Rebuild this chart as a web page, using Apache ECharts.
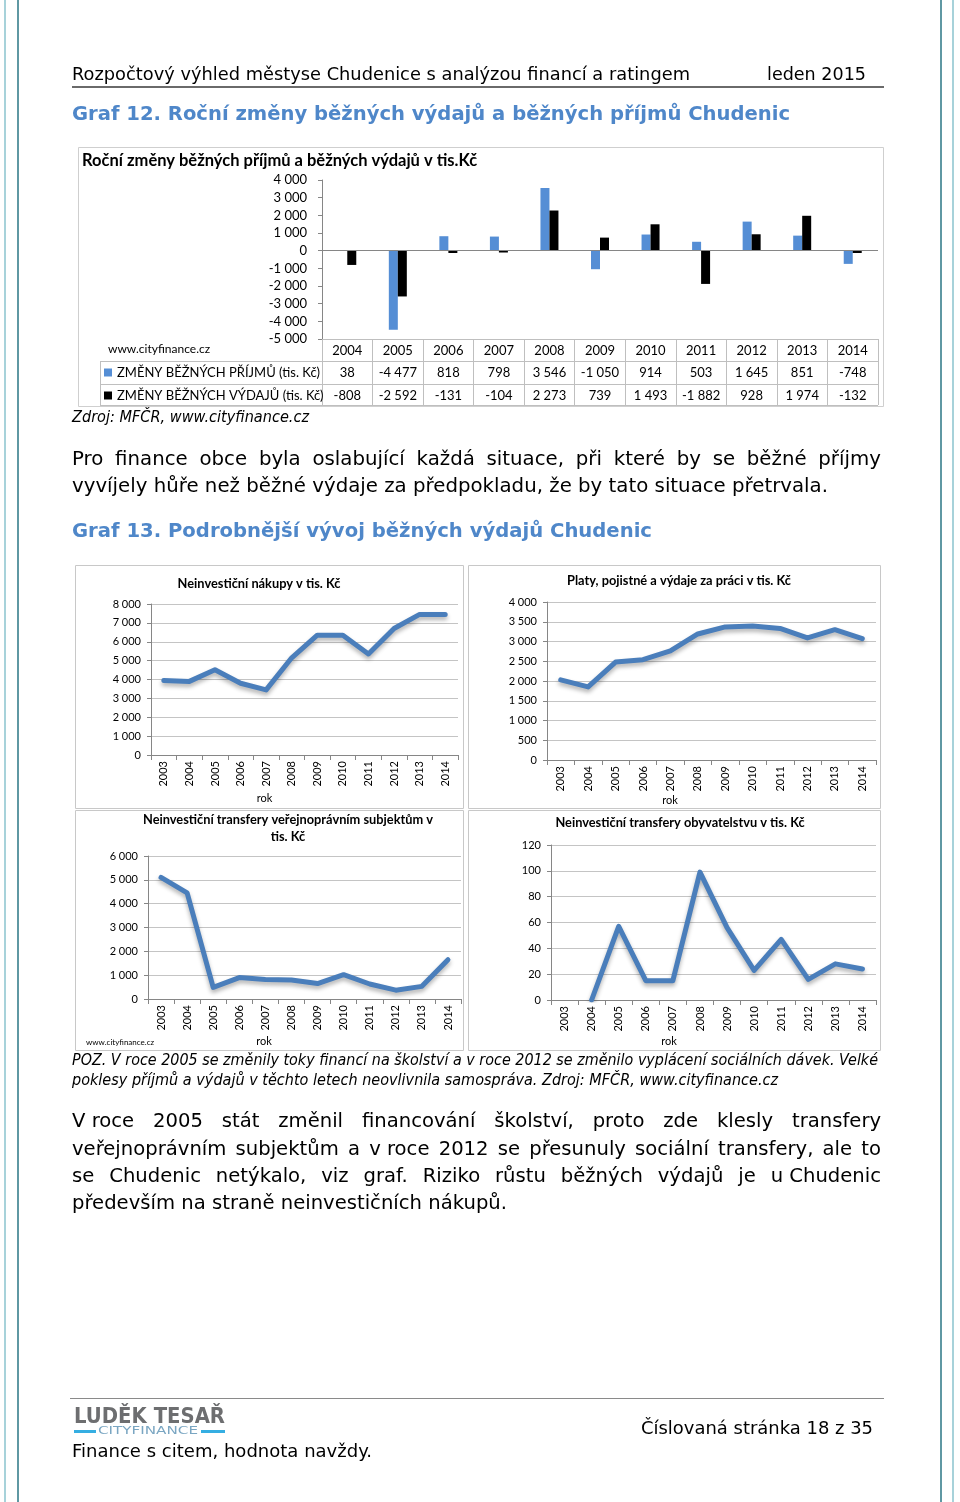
<!DOCTYPE html>
<html><head><meta charset="utf-8">
<script src="https://cdn.jsdelivr.net/npm/echarts@6/dist/echarts.min.js"></script>
<style>
html,body{margin:0;padding:0;background:#fff;}
#page{position:relative;width:960px;height:1502px;overflow:hidden;background:#fff;}
#chart{position:absolute;left:0;top:0;width:960px;height:1502px;}
.t{position:absolute;white-space:nowrap;font-family:'DejaVu Sans',Verdana,sans-serif;color:#000;transform-origin:0 50%;}
.t span{word-spacing:0;}
.r{position:absolute;}
</style></head><body>
<div id="page"><div id="chart"></div></div>
<script>
// ---------- data ----------
const years12 = ['2004','2005','2006','2007','2008','2009','2010','2011','2012','2013','2014'];
const prijmy = [38,-4477,818,798,3546,-1050,914,503,1645,851,-748];
const vydaje = [-808,-2592,-131,-104,2273,739,1493,-1882,928,1974,-132];
const seriesNames12 = ['ZMĚNY BĚŽNÝCH PŘÍJMŮ (tis. Kč)','ZMĚNY BĚŽNÝCH VÝDAJŮ (tis. Kč)'];

const years13 = ['2003','2004','2005','2006','2007','2008','2009','2010','2011','2012','2013','2014'];
const nakupy = [3950,3900,4520,3800,3450,5150,6350,6350,5350,6700,7450,7450];
const platy = [2030,1850,2480,2540,2760,3190,3370,3390,3330,3090,3300,3070];
const transferyVS = [5100,4450,490,900,820,800,650,1020,630,370,530,1650];
const transferyObyv = [null,0,57,15,15,99,56,23,47,16,28,24];

const panelTitles = ['Neinvestiční nákupy v tis. Kč','Platy, pojistné a výdaje za práci v tis. Kč','Neinvestiční transfery veřejnoprávním subjektům v\ntis. Kč','Neinvestiční transfery obyvatelstvu v tis. Kč'];

// ---------- helpers ----------
const F = 'Lato, "Open Sans", sans-serif';
const fmt = v => v == null ? '' : (v < 0 ? '-' : '') + String(Math.abs(v)).replace(/\B(?=(\d{3})+(?!\d))/g, ' ');
const page = document.getElementById('page');
const NB = '\u00a0';

function fill(d, s) {
  // words joined by NBSP are kept in spans so justification does not stretch them
  s.split(' ').forEach((w, i) => {
    if (i) d.appendChild(document.createTextNode(' '));
    if (w.indexOf(NB) >= 0) { const sp = document.createElement('span'); sp.textContent = w; d.appendChild(sp); }
    else d.appendChild(document.createTextNode(w));
  });
}
function measure(s, size, o) {
  const d = document.createElement('span');
  d.className = 't'; fill(d, s); d.style.fontSize = size + 'px';
  if (o.bold) d.style.fontWeight = 'bold';
  if (o.italic) d.style.fontStyle = 'italic';
  page.appendChild(d); const w = d.getBoundingClientRect().width; page.removeChild(d); return w;
}
function txt(s, x, yc, size, target, o = {}, scale, justifyTo) {
  const d = document.createElement('div');
  d.className = 't'; fill(d, s);
  d.style.fontSize = size + 'px'; d.style.lineHeight = (size * 1.25) + 'px';
  d.style.left = x + 'px'; d.style.top = (yc - size * 0.625) + 'px';
  if (o.bold) d.style.fontWeight = 'bold';
  if (o.italic) d.style.fontStyle = 'italic';
  if (o.color) d.style.color = o.color;
  page.appendChild(d);
  const w = d.getBoundingClientRect().width;
  let s2 = scale || (target ? target / w : 1);
  if (justifyTo) {
    const spaces = (s.match(/ /g) || []).length;
    if (spaces) d.style.wordSpacing = ((justifyTo / s2 - w) / spaces) + 'px';
  }
  d.style.transform = 'scaleX(' + s2 + ')';
  return d;
}
function para(lines, x, ys, size, width, lastTarget, o = {}) {
  const last = lines[lines.length - 1];
  const sc = lastTarget / measure(last, size, o);
  lines.forEach((l, i) => {
    if (i < lines.length - 1) txt(l, x, ys[i], size, null, o, sc, width);
    else txt(l, x, ys[i], size, null, o, sc);
  });
}
function rule(x, y, w, h, c) {
  const d = document.createElement('div'); d.className = 'r';
  d.style.left = x + 'px'; d.style.top = y + 'px'; d.style.width = w + 'px'; d.style.height = h + 'px'; d.style.background = c;
  page.appendChild(d);
}

// ---------- page decoration & text ----------
rule(4, 0, 2, 1502, '#a7d2da'); rule(17, 0, 2, 1502, '#5f98a3');
rule(940, 0, 2, 1502, '#5f98a3'); rule(952, 0, 2, 1502, '#a7d2da');

txt('Rozpočtový výhled městyse Chudenice s analýzou financí a ratingem', 72, 75, 17, 618);
txt('leden 2015', 767, 75, 17, 99);
rule(72, 86, 812, 2, '#6a6a6a');
const BLUE = '#4f87c9';
txt('Graf 12. Roční změny běžných výdajů a běžných příjmů Chudenic', 72, 114, 19, 718, {bold: true, color: BLUE});
txt('Zdroj: MFČR, www.cityfinance.cz', 72, 417, 15, 237, {italic: true});
para(['Pro finance obce byla oslabující každá situace, při které by se běžné příjmy',
      'vyvíjely hůře než běžné výdaje za předpokladu, že by tato situace přetrvala.'],
     72, [459, 486], 19, 809, 756);
txt('Graf 13. Podrobnější vývoj běžných výdajů Chudenic', 72, 531, 19, 580, {bold: true, color: BLUE});
txt('POZ. V roce 2005 se změnily toky financí na školství a v roce 2012 se změnilo vyplácení sociálních dávek. Velké', 72, 1060, 15, 806, {italic: true});
txt('poklesy příjmů a výdajů v těchto letech neovlivnila samospráva. Zdroj: MFČR, www.cityfinance.cz', 72, 1080, 15, 706, {italic: true});
para(['V\u00a0roce 2005 stát změnil financování školství, proto zde klesly transfery',
      'veřejnoprávním subjektům a v\u00a0roce 2012 se přesunuly sociální transfery, ale to',
      'se Chudenic netýkalo, viz graf. Riziko růstu běžných výdajů je u\u00a0Chudenic',
      'především na straně neinvestičních nákupů.'],
     72, [1121, 1149, 1176, 1203], 19, 809, 435);
rule(70, 1398, 814, 1, '#8a8a8a');
txt('LUDĚK TESAŘ', 74, 1416, 22, 151, {bold: true, color: '#6d6e70'});
txt('CITYFINANCE', 98, 1431, 11, 100, {color: '#7aa6c2'});
rule(74, 1430, 22, 3, '#35aee2'); rule(201, 1430, 24, 3, '#35aee2');
txt('Finance s citem, hodnota navždy.', 72, 1451, 18, 300);
txt('Číslovaná stránka 18 z 35', 641, 1428, 18, 232);

// ---------- charts ----------
const AX = '#868686', GR = '#c4c4c4', TB = '#bfbfbf';
const grids = [], xAxes = [], yAxes = [], series = [], graphics = [];

// Chart 12
const g12 = {left: 322, top: 180, width: 556, height: 159};
grids.push(Object.assign({outerBoundsMode: 'none', containLabel: false}, g12));
const tableLabel = {interval: 0, margin: 5, fontSize: 13, color: '#000', fontFamily: F, hideOverlap: false};
xAxes.push({gridIndex: 0, type: 'category', data: years12, position: 'bottom',
  axisLine: {onZero: false, lineStyle: {color: TB}}, axisTick: {show: true, length: 66, interval: 0, lineStyle: {color: TB}},
  axisLabel: tableLabel});
xAxes.push({gridIndex: 0, type: 'category', data: prijmy.map(fmt), position: 'bottom', offset: 22,
  axisLine: {onZero: false, lineStyle: {color: TB}}, axisTick: {show: false}, axisLabel: tableLabel});
xAxes.push({gridIndex: 0, type: 'category', data: vydaje.map(fmt), position: 'bottom', offset: 45,
  axisLine: {onZero: false, lineStyle: {color: TB}}, axisTick: {show: false}, axisLabel: tableLabel});
yAxes.push({gridIndex: 0, type: 'value', min: -5000, max: 4000, interval: 1000,
  axisLine: {show: true, lineStyle: {color: AX}}, axisTick: {show: true, length: 4, lineStyle: {color: AX}},
  splitLine: {show: false}, axisLabel: {formatter: fmt, fontSize: 13, color: '#000', fontFamily: F, margin: 15}});
series.push({type: 'bar', name: seriesNames12[0], xAxisIndex: 0, yAxisIndex: 0, data: prijmy, barWidth: 9, barGap: '0%',
  itemStyle: {color: '#558ed5'},
  markLine: {silent: true, symbol: 'none', label: {show: false}, lineStyle: {color: AX, type: 'solid', width: 1}, data: [{yAxis: 0}]}});
series.push({type: 'bar', name: seriesNames12[1], xAxisIndex: 0, yAxisIndex: 0, data: vydaje, barWidth: 9, barGap: '0%',
  itemStyle: {color: '#000'}});
graphics.push({type: 'rect', shape: {x: 78.5, y: 147.5, width: 805, height: 259}, style: {fill: null, stroke: '#cfcfcf', lineWidth: 1}, silent: true});
graphics.push({type: 'text', x: 82, y: 161, style: {text: 'Roční změny běžných příjmů a běžných výdajů v tis.Kč', font: 'bold 16.5px ' + F, fill: '#000', verticalAlign: 'middle'}});
graphics.push({type: 'text', x: 108, y: 349, style: {text: 'www.cityfinance.cz', font: '12px ' + F, fill: '#000', verticalAlign: 'middle'}});
[361, 384].forEach(y => graphics.push({type: 'line', shape: {x1: 100, y1: y + .5, x2: 322, y2: y + .5}, style: {stroke: TB, lineWidth: 1}}));
graphics.push({type: 'line', shape: {x1: 100, y1: 405.5, x2: 878, y2: 405.5}, style: {stroke: TB, lineWidth: 1}});
graphics.push({type: 'line', shape: {x1: 100.5, y1: 361, x2: 100.5, y2: 406}, style: {stroke: TB, lineWidth: 1}});

// Chart 13 panels
const panels = [
  {frame: [75, 565, 388, 243], grid: {left: 151, top: 604, width: 307, height: 151}, min: 0, max: 8000, iv: 1000, data: nakupy, title: [259, 584], nameGap: 38, shift: 80},
  {frame: [468, 565, 412, 243], grid: {left: 547, top: 602, width: 329, height: 158}, min: 0, max: 4000, iv: 500, data: platy, title: [679, 581], nameGap: 34, shift: 83},
  {frame: [75, 810, 388, 240], grid: {left: 148, top: 856, width: 313, height: 143}, min: 0, max: 6000, iv: 1000, data: transferyVS, title: [288, 828], nameGap: 37, shift: 81},
  {frame: [468, 810, 412, 240], grid: {left: 551, top: 845, width: 325, height: 155}, min: 0, max: 120, iv: 20, data: transferyObyv, title: [680, 823], nameGap: 36, shift: 89}
];
panels.forEach((p, i) => {
  const gi = i + 1;
  grids.push(Object.assign({outerBoundsMode: 'none', containLabel: false}, p.grid));
  xAxes.push({gridIndex: gi, type: 'category', data: years13,
    axisLine: {lineStyle: {color: AX}}, axisTick: {show: true, length: 5, interval: 0, lineStyle: {color: AX}},
    axisLabel: {rotate: 90, interval: 0, margin: 6, fontSize: 11, color: '#000', fontFamily: F, hideOverlap: false},
    name: 'rok', nameLocation: 'middle', nameGap: p.nameGap,
    nameTextStyle: {fontSize: 11, color: '#000', fontFamily: F, padding: [0, p.shift, 0, 0]}});
  yAxes.push({gridIndex: gi, type: 'value', min: p.min, max: p.max, interval: p.iv,
    axisLine: {show: true, lineStyle: {color: AX}}, axisTick: {show: true, length: 4, lineStyle: {color: AX}},
    splitLine: {show: true, lineStyle: {color: GR, width: 1}},
    axisLabel: {formatter: fmt, fontSize: 11, color: '#000', fontFamily: F, margin: 10}});
  series.push({type: 'line', xAxisIndex: 3 + i, yAxisIndex: gi, data: p.data, symbol: 'none', connectNulls: false,
    lineStyle: {width: 5, color: '#4a7ebb', shadowColor: 'rgba(0,0,0,0.3)', shadowBlur: 4, shadowOffsetY: 3, cap: 'round', join: 'round'}});
  graphics.push({type: 'rect', shape: {x: p.frame[0] + .5, y: p.frame[1] + .5, width: p.frame[2], height: p.frame[3]}, style: {fill: null, stroke: '#c8c8c8', lineWidth: 1}, silent: true});
  graphics.push({type: 'text', x: p.title[0], y: p.title[1], style: {text: panelTitles[i], font: 'bold 12.8px ' + F, fill: '#000', align: 'center', verticalAlign: 'middle', lineHeight: 17}});
});
graphics.push({type: 'text', x: 86, y: 1042, style: {text: 'www.cityfinance.cz', font: '8px ' + F, fill: '#000', verticalAlign: 'middle'}});

const chart = echarts.init(document.getElementById('chart'), null, {renderer: 'canvas'});
chart.setOption({
  animation: false,
  backgroundColor: 'transparent',
  legend: {data: seriesNames12, left: 104, top: 366, orient: 'vertical', padding: 0, itemGap: 10, itemWidth: 8, itemHeight: 8,
    icon: 'rect', textStyle: {fontSize: 13, color: '#000', fontFamily: F}, selectedMode: false},
  grid: grids, xAxis: xAxes, yAxis: yAxes, series: series, graphic: graphics
});
</script></body></html>
